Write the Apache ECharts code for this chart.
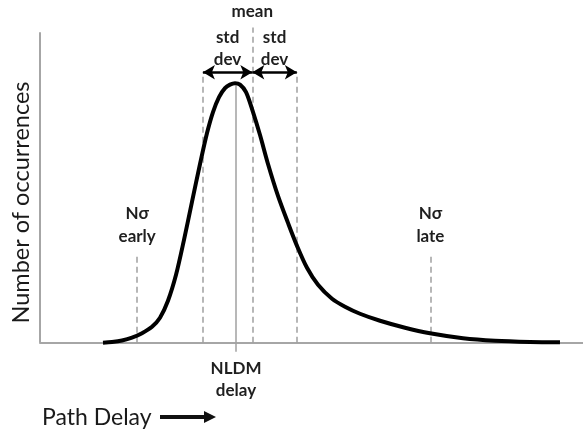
<!DOCTYPE html>
<html>
<head>
<meta charset="utf-8">
<script src="https://cdn.jsdelivr.net/npm/echarts@6/dist/echarts.min.js"></script>
<style>
html,body{margin:0;padding:0;background:#fff;}
#chart{width:583px;height:429px;}
</style>
</head>
<body>
<div id="chart"></div>
<script>
// Path delay (x) and number of occurrences (y)
var delayValues = [11.60, 13.26, 15.10, 16.94, 18.78, 20.63, 22.10, 23.57, 25.05, 26.52, 27.99, 29.47, 30.76,
  31.86, 32.97, 34.07, 34.99, 35.91, 36.83, 37.94, 39.23, 40.52, 41.99, 43.83, 45.67, 47.33, 49.17, 51.20,
  53.78, 56.17, 58.93, 62.62, 67.22, 71.82, 77.90, 83.79, 90.24, 95.76];
var occurrenceValues = [0, 0.23, 0.71, 1.61, 3.05, 5.14, 8.04, 13.50, 21.86, 33.12, 45.34, 57.56, 67.52,
  74.28, 79.10, 81.99, 83.12, 83.60, 83.12, 80.71, 74.28, 66.88, 57.56, 47.27, 38.59, 31.19, 24.12, 18.65,
  14.15, 11.58, 9.32, 7.07, 4.82, 3.05, 1.45, 0.64, 0.26, 0.16];

// Marker positions on the delay axis
var nSigmaEarly = 17.9;
var stdDevLeft = 30.0;
var meanDelay = 39.1;
var stdDevRight = 47.3;
var nSigmaLate = 71.9;
var nldmDelay = 36.1;

// Marker heights on the occurrence axis
var nSigmaTop = 28.9;
var stdDevTop = 87.1;
var meanTop = 101.5;
var nldmTop = 82.8;
var nldmBottom = -2.9;
var axisTop = 100;

var labelTexts = {
  early: 'Nσ\nearly',
  late: 'Nσ\nlate',
  mean: 'mean',
  std: 'std\ndev',
  nldm: 'NLDM\ndelay'
};

var dashGray = {color: '#a0a0a0', width: 1.5, type: [6, 4]};
var solidGray = {color: '#a0a0a0', width: 1.5, type: 'solid'};
function lbl(extra) {
  var o = {show: true, fontFamily: 'Lato', fontSize: 17, fontWeight: 'bold', color: '#1f1f1f', lineHeight: 22};
  for (var k in extra) o[k] = extra[k];
  return o;
}

var seriesData = delayValues.map(function (d, i) { return [d, occurrenceValues[i]]; });

var chart = echarts.init(document.getElementById('chart'), null, {renderer: 'canvas'});
chart.setOption({
  animation: false,
  backgroundColor: '#ffffff',
  grid: {left: 40, right: 0, top: 26, bottom: 77},
  xAxis: {
    type: 'value', min: 0, max: 100,
    axisLine: {onZero: true, lineStyle: {color: '#a6a6a6', width: 2}},
    axisTick: {show: false}, axisLabel: {show: false}, splitLine: {show: false},
    name: 'Path Delay', nameLocation: 'start', nameGap: -2,
    nameTextStyle: {fontFamily: 'Lato', fontSize: 23, color: '#1a1a1a', align: 'left', verticalAlign: 'top', padding: [63, 0, 0, 0]}
  },
  yAxis: {
    type: 'value', min: -3, max: 102,
    axisLine: {show: false}, axisTick: {show: false}, axisLabel: {show: false}, splitLine: {show: false},
    name: 'Number of occurrences', nameLocation: 'middle', nameRotate: 90, nameGap: 7,
    nameTextStyle: {fontFamily: 'Lato', fontSize: 23.5, color: '#1a1a1a', padding: [0, 27, 0, 0]}
  },
  graphic: [
    {type: 'rect', shape: {x: 160, y: 415, width: 46, height: 4}, style: {fill: '#111'}},
    {type: 'polygon', shape: {points: [[204, 411], [216, 417], [204, 423]]}, style: {fill: '#111'}}
  ],
  series: [{
    type: 'line',
    data: seriesData,
    smooth: 0.3,
    showSymbol: false,
    clip: false,
    lineStyle: {color: '#000', width: 4},
    z: 5,
    markLine: {
      silent: true,
      symbol: 'none',
      animation: false,
      label: {show: false},
      data: [
        [{coord: [0, 0], lineStyle: {color: '#a6a6a6', width: 2, type: 'solid'}}, {coord: [0, axisTop]}],
        [{coord: [nSigmaEarly, 0], lineStyle: dashGray,
          label: lbl({position: 'end', distance: 5, formatter: labelTexts.early, lineHeight: 23})},
         {coord: [nSigmaEarly, nSigmaTop]}],
        [{coord: [nSigmaLate, 0], lineStyle: dashGray,
          label: lbl({position: 'end', distance: 5, formatter: labelTexts.late, lineHeight: 23})},
         {coord: [nSigmaLate, nSigmaTop]}],
        [{coord: [stdDevLeft, 0], lineStyle: dashGray}, {coord: [stdDevLeft, stdDevTop]}],
        [{coord: [stdDevRight, 0], lineStyle: dashGray}, {coord: [stdDevRight, stdDevTop]}],
        [{coord: [meanDelay, 0], lineStyle: dashGray,
          label: lbl({position: 'end', distance: 5, formatter: labelTexts.mean})},
         {coord: [meanDelay, meanTop]}],
        [{coord: [nldmDelay, nldmBottom], lineStyle: solidGray,
          label: lbl({position: 'start', distance: 6, formatter: labelTexts.nldm})},
         {coord: [nldmDelay, nldmTop]}],
        [{coord: [stdDevLeft, stdDevTop], symbol: 'arrow', symbolSize: [11, 12], lineStyle: {color: '#000', width: 2.5, type: 'solid'},
          label: lbl({position: 'insideMiddleTop', distance: 2, formatter: labelTexts.std})},
         {coord: [meanDelay, stdDevTop], symbol: 'arrow', symbolSize: [11, 12]}],
        [{coord: [meanDelay, stdDevTop], symbol: 'arrow', symbolSize: [11, 12], lineStyle: {color: '#000', width: 2.5, type: 'solid'},
          label: lbl({position: 'insideMiddleTop', distance: 2, formatter: labelTexts.std})},
         {coord: [stdDevRight, stdDevTop], symbol: 'arrow', symbolSize: [11, 12]}]
      ]
    }
  }]
});
</script>
</body>
</html>
